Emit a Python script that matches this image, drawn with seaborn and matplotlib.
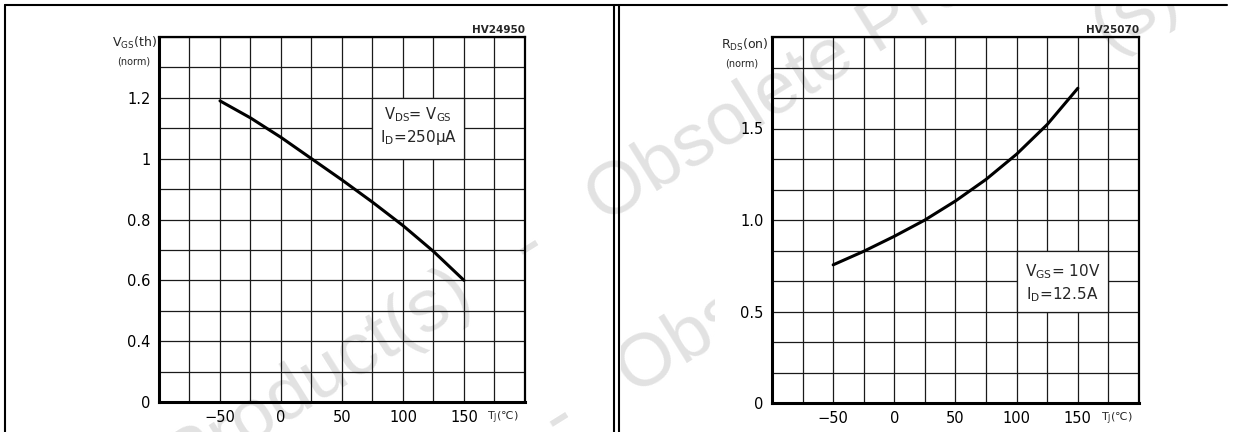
import numpy as np
import pandas as pd
import matplotlib
matplotlib.use("Agg")
import matplotlib.pyplot as plt
import seaborn as sns
from matplotlib.lines import Line2D
from matplotlib.patches import Rectangle
from matplotlib.transforms import Bbox

sns.set_style("white")
plt.rcParams['font.family'] = ['DejaVu Sans']
plt.rcParams['mathtext.default'] = 'regular'

# data
temps = [-50, -25, 0, 25, 50, 75, 100, 125, 150]
vgs_th = [1.19, 1.134, 1.07, 1.0, 0.93, 0.857, 0.78, 0.695, 0.60]
rds_on = [0.755, 0.829, 0.911, 1.0, 1.104, 1.222, 1.36, 1.522, 1.72]

x_ticks = [-50, 0, 50, 100, 150]
x_labels = ["\u221250", "0", "50", "100", "150"]
left_yticks = [0.2, 0.4, 0.6, 0.8, 1.0, 1.2]
left_ylabels = ["0", "0.4", "0.6", "0.8", "1", "1.2"]
right_yticks = [0, 0.5, 1.0, 1.5]
right_ylabels = ["0", "0.5", "1.0", "1.5"]

W, H = 1234, 432
fig = plt.figure(figsize=(W / 100, H / 100), dpi=100)


def px_axes(x0, y0, x1, y1):
    return fig.add_axes([x0 / W, 1 - y1 / H, (x1 - x0) / W, (y1 - y0) / H])


def style(ax, ylim, yminor, yticks, ylabels):
    ax.set_facecolor('none')
    ax.set_xlim(-100, 200)
    ax.set_ylim(*ylim)
    ax.set_xticks(x_ticks)
    ax.set_xticklabels(x_labels)
    ax.set_xticks(np.arange(-100, 201, 25), minor=True)
    ax.set_yticks(yticks)
    ax.set_yticklabels(ylabels)
    ax.set_yticks(yminor, minor=True)
    ax.set_axisbelow(True)
    ax.grid(which='both', color='#1a1a1a', lw=0.9)
    ax.tick_params(which='both', length=0, labelsize=10.5, pad=6, colors='black')
    for side in ['left', 'bottom']:
        ax.spines[side].set_linewidth(2.2)
        ax.spines[side].set_color('black')
    for side in ['top', 'right']:
        ax.spines[side].set_linewidth(1.6)
        ax.spines[side].set_color('black')
    ax.set_xlabel('')
    ax.set_ylabel('')


tj_label = "T$_{J}$(\u2103)"

# ---- left chart: gate threshold voltage
ax1 = px_axes(159, 37, 525, 402)
df1 = pd.DataFrame({'T': temps, 'V': vgs_th})
sns.lineplot(data=df1, x='T', y='V', ax=ax1, color='black', lw=2.2, zorder=3)
style(ax1, (0.2, 1.4), np.arange(0.2, 1.41, 0.1), left_yticks, left_ylabels)
ax1.add_patch(Rectangle((75, 1.0), 75, 0.2, facecolor='white',
                        edgecolor='#1a1a1a', lw=0.9, zorder=2))
ax1.text(112.5, 1.144, "V$_{DS}$= V$_{GS}$", ha='center', va='center', fontsize=10.5, zorder=4)
ax1.text(112.5, 1.071, "I$_{D}$=250\u03bcA", ha='center', va='center', fontsize=11, zorder=4)
ax1.text(1.0, 1 + 4 / 365, "HV24950", transform=ax1.transAxes, ha='right',
         va='baseline', fontsize=7.5, fontweight='bold')
ax1.text(169, -0.044, tj_label, transform=ax1.get_xaxis_transform(),
         ha='left', va='center', fontsize=8)

# ---- right chart: on-resistance
ax2 = px_axes(772, 37, 1139, 403)
df2 = pd.DataFrame({'T': temps, 'R': rds_on})
sns.lineplot(data=df2, x='T', y='R', ax=ax2, color='black', lw=2.2, zorder=3)
style(ax2, (0, 2.0), np.linspace(0, 2.0, 13), right_yticks, right_ylabels)
ax2.add_patch(Rectangle((100, 0.5), 75, 2 / 6, facecolor='white',
                        edgecolor='#1a1a1a', lw=0.9, zorder=2))
ax2.text(137.5, 0.716, "V$_{GS}$= 10V", ha='center', va='center', fontsize=11, zorder=4)
ax2.text(137.5, 0.59, "I$_{D}$=12.5A", ha='center', va='center', fontsize=11, zorder=4)
ax2.text(1.0, 1 + 4 / 366, "HV25070", transform=ax2.transAxes, ha='right',
         va='baseline', fontsize=7.5, fontweight='bold')
ax2.text(169, -0.044, tj_label, transform=ax2.get_xaxis_transform(),
         ha='left', va='center', fontsize=8)

# axis titles sitting left of the top of each grid
fig.text(157 / W, 1 - 43 / H, "V$_{GS}$(th)", ha='right', va='center', fontsize=9)
fig.text(150 / W, 1 - 62 / H, "(norm)", ha='right', va='center', fontsize=7)
fig.text(769 / W, 1 - 45 / H, "R$_{DS}$(on)", ha='right', va='center', fontsize=9)
fig.text(758 / W, 1 - 63 / H, "(norm)", ha='right', va='center', fontsize=7)

# panel frames
for xs, ys in [([5, 1227], [5, 5]), ([5, 5], [5, 432]),
               ([614, 614], [5, 432]), ([619, 619], [5, 432])]:
    fig.add_artist(Line2D([x / W for x in xs], [1 - y / H for y in ys],
                          transform=fig.transFigure, color='black', lw=1.5))

# faint watermark across both panels
wm = "Obsolete Product(s)   -   Obsolete Product(s)"
inside = Bbox.from_extents(6, 0, W, H - 6)
left_clip = Bbox.from_extents(6, 0, 613, H - 6)
obs_clip = Bbox.from_extents(621, 0, 715, H - 6)
pieces = [(wm, 530, 248, inside), (wm, 560, 420, left_clip),
          (wm, 560, 420, obs_clip), ("(s)", 1135, 12, inside)]
for s, px, py, clip in pieces:
    t = fig.text(px / W, 1 - py / H, s, rotation=32, rotation_mode='anchor',
                 ha='center', va='center', fontsize=54, color='#e2e2e2',
                 family=['Liberation Sans', 'DejaVu Sans'], zorder=-1)
    t.set_clip_box(clip)
    t.set_clip_on(True)

fig.savefig("out.png", dpi=100, facecolor='white')
